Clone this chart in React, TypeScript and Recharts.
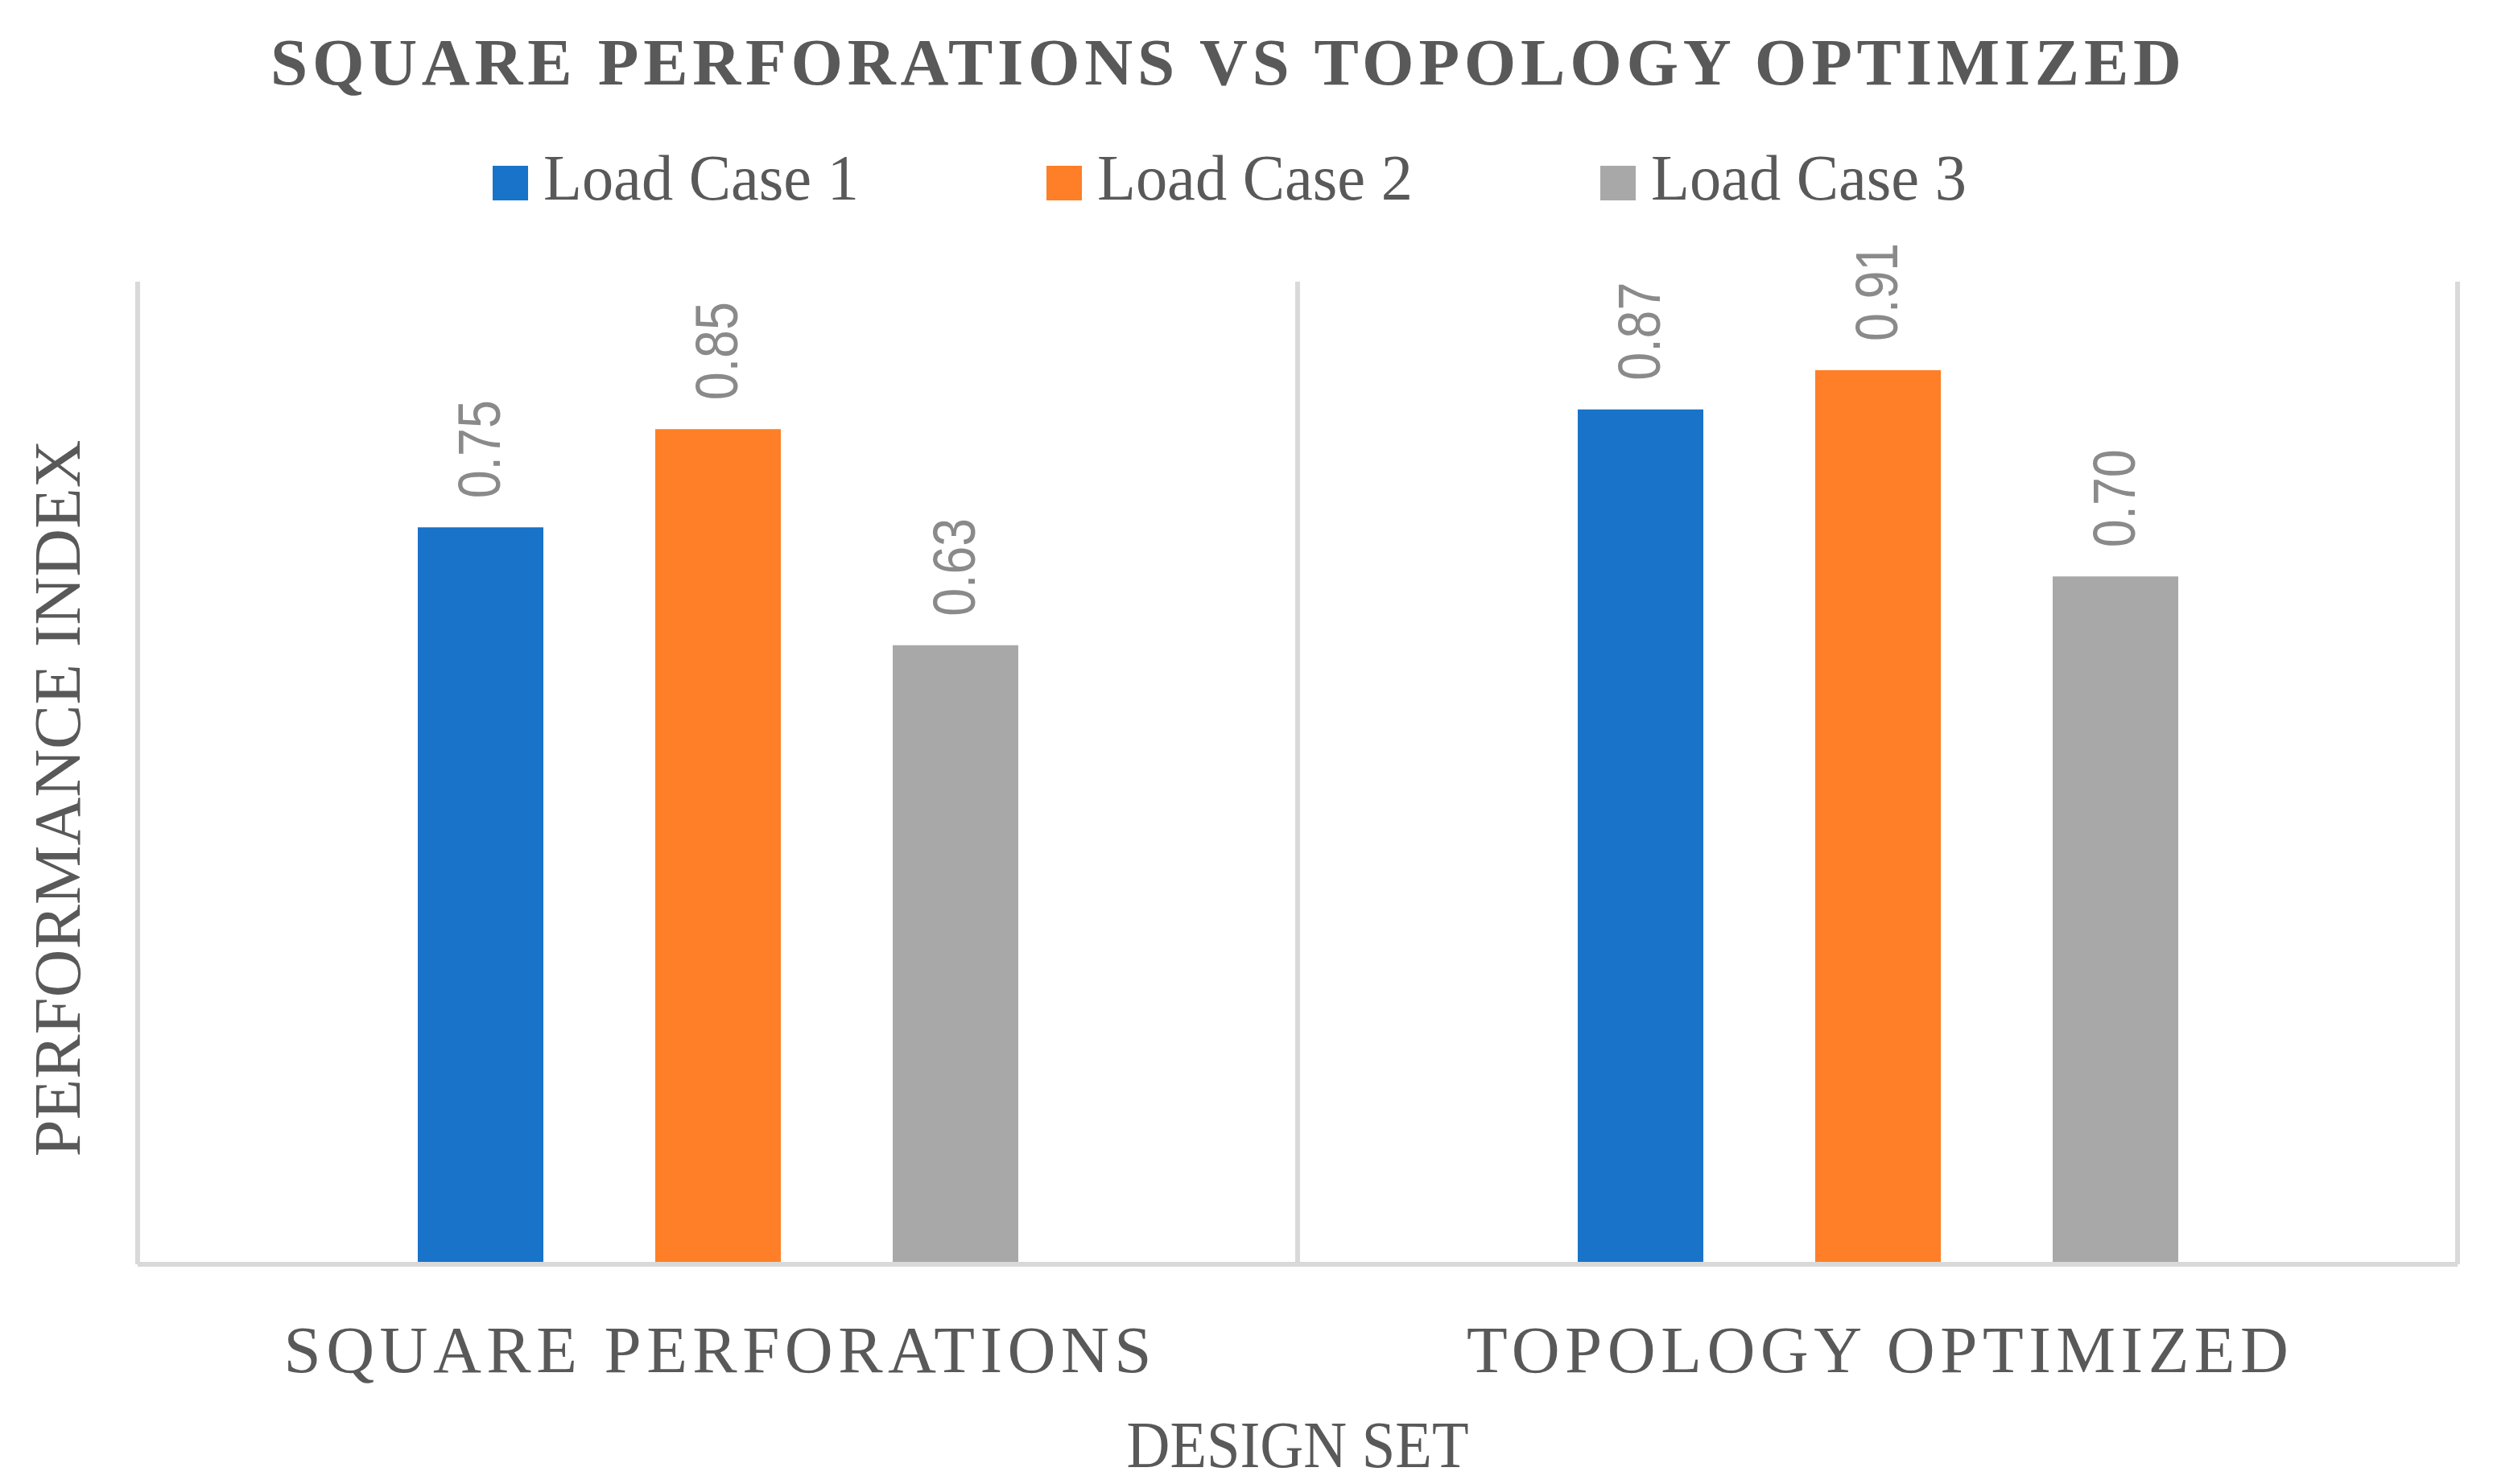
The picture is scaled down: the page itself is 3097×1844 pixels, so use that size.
import React from 'react';
import { BarChart, Bar, XAxis, YAxis, ReferenceLine, Legend, LabelList, Label } from 'recharts';

const categories = ['SQUARE PERFORATIONS', 'TOPOLOGY OPTIMIZED'];
const seriesNames = ['Load Case 1', 'Load Case 2', 'Load Case 3'];
const loadCase1 = [0.75, 0.87];
const loadCase2 = [0.85, 0.91];
const loadCase3 = [0.63, 0.7];
const seriesColors = ['#1873C9', '#FE7F27', '#A8A8A8'];
const chartTitle = 'SQUARE PERFORATIONS VS TOPOLOGY OPTIMIZED';
const xTitle = 'DESIGN SET';
const yTitle = 'PERFORMANCE INDEX';

const W = 3097;
const H = 1844;
const TEXT = '#595959';
const LINE = '#D9D9D9';
const SERIF = '"Liberation Serif", "Times New Roman", serif';
const SANS = '"Liberation Sans", Arial, sans-serif';
const tickLengths = [1078, 1021];
const legendTextLengths = [392, 392, 392];

const data = categories.map((name, i) => ({
  name,
  lc1: loadCase1[i],
  lc2: loadCase2[i],
  lc3: loadCase3[i],
}));

const CategoryTick = (props: any) => {
  const { x, y, payload, index } = props;
  return (
    <text
      x={x}
      y={Number(y) + 134}
      textAnchor="middle"
      fill={TEXT}
      fontFamily={SERIF}
      fontSize={83}
      textLength={tickLengths[index] ?? 1000}
      lengthAdjust="spacing"
    >
      {payload.value}
    </text>
  );
};

const ValueLabel = (props: any) => {
  const { x, y, width, value } = props;
  const px = Number(x) + Number(width) / 2 + 24;
  const py = Number(y) - 36;
  return (
    <text
      x={px}
      y={py}
      transform={`rotate(-90 ${px} ${py})`}
      fill="#8A8A8A"
      fontFamily={SANS}
      fontSize={74}
      textLength={122}
      lengthAdjust="spacingAndGlyphs"
    >
      {Number(value).toFixed(2)}
    </text>
  );
};

const LegendContent = (props: any) => {
  const payload = props.payload || [];
  return (
    <div style={{ position: 'relative', width: W, height: 0 }}>
      <svg
        width={W}
        height={300}
        style={{ position: 'absolute', left: 0, top: 0, overflow: 'visible' }}
      >
        {payload.map((p: any, i: number) => (
          <g key={i}>
            <rect x={612 + 688 * i} y={206} width={44} height={43} fill={p.color} />
            <text
              x={675 + 688 * i}
              y={248}
              fill={TEXT}
              fontFamily={SERIF}
              fontSize={80}
              textLength={legendTextLengths[i]}
              lengthAdjust="spacingAndGlyphs"
            >
              {p.value}
            </text>
          </g>
        ))}
      </svg>
    </div>
  );
};

const XTitle = (props: any) => {
  const vb = props.viewBox || {};
  const cx = vb.x + vb.width / 2;
  const by = vb.y + 252;
  return (
    <text
      x={cx}
      y={by}
      textAnchor="middle"
      fill={TEXT}
      fontFamily={SERIF}
      fontSize={82}
      textLength={425}
      lengthAdjust="spacingAndGlyphs"
    >
      {xTitle}
    </text>
  );
};

export default function App() {
  const keys = ['lc1', 'lc2', 'lc3'];
  return (
    <div style={{ position: 'absolute', left: 0, top: 0, width: W, height: H, background: '#fff' }}>
      <svg
        width={W}
        height={H}
        style={{ position: 'absolute', left: 0, top: 0, pointerEvents: 'none' }}
      >
        <text
          x={1523}
          y={105}
          textAnchor="middle"
          fill={TEXT}
          fontFamily={SERIF}
          fontWeight="bold"
          fontSize={83}
          textLength={2374}
          lengthAdjust="spacing"
        >
          {chartTitle}
        </text>
        <text
          x={99}
          y={992}
          textAnchor="middle"
          transform="rotate(-90 99 992)"
          fill={TEXT}
          fontFamily={SERIF}
          fontSize={83}
          textLength={891}
          lengthAdjust="spacingAndGlyphs"
        >
          {yTitle}
        </text>
      </svg>
      <BarChart
        width={W}
        height={H}
        data={data}
        margin={{ top: 350, left: 171, right: 44, bottom: 143 }}
        barGap={139}
        barSize={156}
        style={{ position: 'absolute', left: 0, top: 0 }}
      >
        <XAxis
          dataKey="name"
          height={130}
          interval={0}
          tickLine={false}
          tickSize={0}
          tickMargin={0}
          axisLine={{ stroke: LINE, strokeWidth: 6 }}
          tick={<CategoryTick />}
        >
          <Label content={<XTitle />} />
        </XAxis>
        <YAxis domain={[0, 1]} hide />
        <ReferenceLine x={categories[0]} position="start" stroke={LINE} strokeWidth={6} />
        <ReferenceLine x={categories[0]} position="end" stroke={LINE} strokeWidth={6} />
        <ReferenceLine x={categories[1]} position="end" stroke={LINE} strokeWidth={6} />
        <Legend
          verticalAlign="top"
          content={<LegendContent />}
          wrapperStyle={{ position: 'absolute', left: 0, top: 0, width: W, height: 0, margin: 0, padding: 0 }}
        />
        {keys.map((k, i) => (
          <Bar key={k} dataKey={k} name={seriesNames[i]} fill={seriesColors[i]} isAnimationActive={false}>
            <LabelList dataKey={k} content={<ValueLabel />} />
          </Bar>
        ))}
      </BarChart>
    </div>
  );
}
